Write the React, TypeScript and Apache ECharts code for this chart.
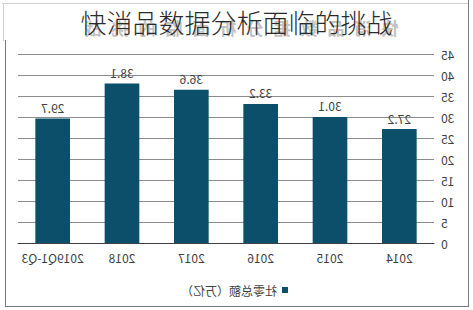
import React, { useEffect, useRef } from "react";
import * as echarts from "echarts";

const categories = ["2014", "2015", "2016", "2017", "2018", "2019Q1-Q3"];
const values = [27.2, 30.1, 33.2, 36.6, 38.1, 29.7];
const seriesName = "社零总额（万亿）";
const titleText = "快消品数据分析面临的挑战";

export default function App() {
  const ref = useRef<HTMLDivElement>(null);
  useEffect(() => {
    document.body.style.margin = "0";
    const chart = echarts.init(ref.current!, null, { renderer: "svg" });
    const font = "Noto Sans CJK SC";
    chart.setOption({
      animation: false,
      textStyle: { fontFamily: font },
      legend: {
        left: 180,
        top: 279,
        itemWidth: 6,
        itemHeight: 6,
        itemGap: 4,
        icon: "rect",
        textStyle: { color: "#404040", fontSize: 12, fontFamily: font },
        data: [seriesName],
      },
      grid: { left: 39, right: 18, top: 54.5, bottom: 67 },
      xAxis: {
        type: "category",
        data: categories,
        axisTick: { show: false },
        axisLine: { lineStyle: { color: "#404040", width: 1 } },
        axisLabel: { color: "#404040", fontSize: 12, margin: 8, fontFamily: font, interval: 0 },
      },
      yAxis: {
        type: "value",
        min: 0,
        max: 45,
        interval: 5,
        axisLine: { show: false },
        axisTick: { show: false },
        splitLine: { lineStyle: { color: "#8c8c8c", width: 1 } },
        axisLabel: { color: "#404040", fontSize: 12, margin: 7, fontFamily: font },
      },
      series: [
        {
          name: seriesName,
          type: "bar",
          data: values,
          barCategoryGap: "50%",
          itemStyle: { color: "#0b4f6b" },
          label: { show: true, position: "top", color: "#404040", fontSize: 12, fontFamily: font, distance: 5 },
        },
      ],
    });
    return () => chart.dispose();
  }, []);

  const line = (s: React.CSSProperties) => <div style={{ position: "absolute", ...s }} />;

  return (
    <div style={{ position: "relative", width: 473, height: 310, background: "#fff", overflow: "hidden" }}>
      <div ref={ref} style={{ position: "absolute", left: 0, top: 0, width: 473, height: 310, transform: "scaleX(-1)" }} />
      {line({ left: 2, top: 3, width: 467, height: 1, background: "#d0d0d0" })}
      {line({ left: 3, top: 3, width: 1, height: 38, background: "#d0d0d0" })}
      {line({ left: 5, top: 40, width: 1, height: 267, background: "#7a7a7a" })}
      {line({ left: 5, top: 306, width: 464, height: 1, background: "#7a7a7a" })}
      {line({ left: 468, top: 0, width: 1, height: 307, background: "#7a7a7a" })}
      <div
        style={{
          position: "absolute",
          left: 0,
          width: 473,
          top: 18,
          textAlign: "center",
          fontFamily: "'Noto Sans CJK SC', sans-serif",
          fontSize: 17,
          fontWeight: 700,
          letterSpacing: 10,
          color: "#c2c2c2",
          lineHeight: "20px",
          transform: "scaleX(-1)",
          whiteSpace: "nowrap",
        }}
      >
        {titleText}
      </div>
      <div
        style={{
          position: "absolute",
          left: 0,
          width: 473,
          top: 4,
          textAlign: "center",
          fontFamily: "'Noto Sans CJK SC', sans-serif",
          fontSize: 26,
          fontWeight: 300,
          color: "#2a2a2a",
          lineHeight: "36px",
        }}
      >
        {titleText}
      </div>
    </div>
  );
}
